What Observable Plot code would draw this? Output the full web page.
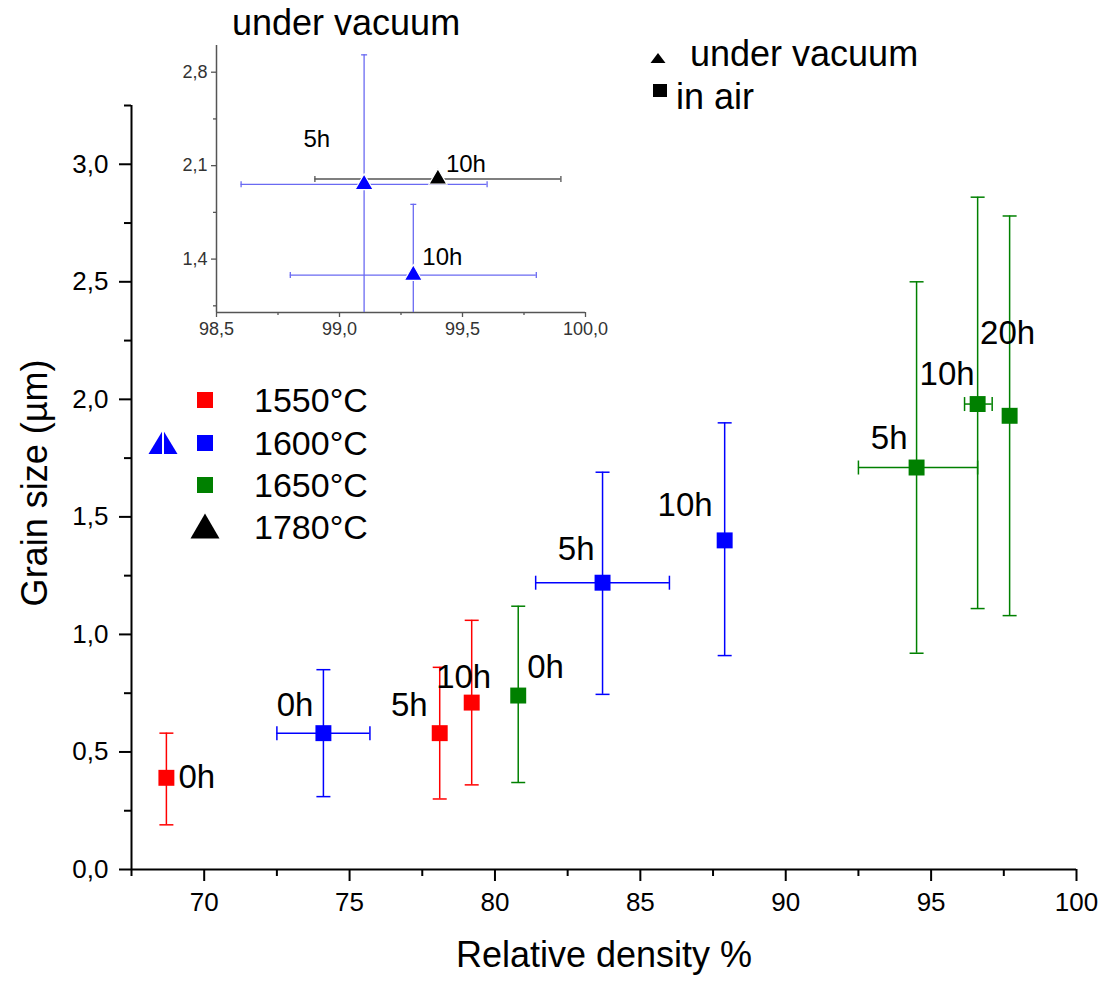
<!DOCTYPE html>
<html><head><meta charset="utf-8">
<script src="https://cdn.jsdelivr.net/npm/d3@7"></script>
<script src="https://cdn.jsdelivr.net/npm/@observablehq/plot@0.6"></script>
<style>
body{margin:0;background:#fff;}
#wrap{position:relative;width:1104px;height:984px;}
#wrap > svg{position:absolute;left:0;top:0;}
</style></head><body><div id="wrap"></div>
<script>
// ---------- data: samples sintered in air ----------
const airTemp = ["1550°C","1550°C","1550°C","1600°C","1600°C","1600°C","1650°C","1650°C","1650°C","1650°C"];
const airTime = ["0h","5h","10h","0h","5h","10h","0h","5h","10h","20h"];
const airDensity = [68.7, 78.1, 79.2, 74.1, 83.7, 87.9, 80.8, 94.5, 96.6, 97.7];
const airGrain = [0.39, 0.58, 0.71, 0.58, 1.22, 1.40, 0.74, 1.71, 1.98, 1.93];
const airGrainLow = [0.19, 0.30, 0.36, 0.31, 0.745, 0.91, 0.37, 0.92, 1.11, 1.08];
const airGrainHigh = [0.58, 0.86, 1.06, 0.85, 1.69, 1.90, 1.12, 2.50, 2.86, 2.78];
const airDensityLow = [null, null, null, 72.5, 81.4, null, null, 92.5, 96.15, null];
const airDensityHigh = [null, null, null, 75.7, 86.0, null, null, 96.6, 97.1, null];

// ---------- data: samples sintered under vacuum (inset) ----------
const vacTemp = ["1600°C", "1780°C", "1600°C"];
const vacTime = ["5h", "10h", "10h"];
const vacDensity = [99.1, 99.4, 99.3];
const vacGrain = [1.96, 2.00, 1.28];
const vacGrainLow = [0.99, null, 0.75];
const vacGrainHigh = [2.93, null, 1.81];
const vacDensityLow = [98.6, 98.9, 98.8];
const vacDensityHigh = [99.6, 99.9, 99.8];

// ---------- series / legend ----------
const seriesTemps = ["1550°C", "1600°C", "1650°C", "1780°C"];
const seriesColors = ["#ff0000", "#0000ff", "#008000", "#000000"];
const insetBarColors = {"1600°C": "#6a6af2", "1780°C": "#555555"};

// ---------- ticks ----------
const xMajor = [70, 75, 80, 85, 90, 95, 100];
const xMinor = [67.5, 72.5, 77.5, 82.5, 87.5, 92.5, 97.5];
const yMajor = [0, 0.5, 1.0, 1.5, 2.0, 2.5, 3.0];
const yMinor = [0.25, 0.75, 1.25, 1.75, 2.25, 2.75, 3.25];
const insetXMajor = [98.5, 99.0, 99.5, 100.0];
const insetXMinor = [98.75, 99.25, 99.75];
const insetYMajor = [1.4, 2.1, 2.8];
const insetYMinor = [1.05, 1.75, 2.45];

// ---------- label layout (pixel offsets, not data) ----------
const airLabelDx = [12, -12, -8, -10, -8, -12, 9, -9, -3, -2];
const airLabelDy = [0, -28, -25, -28, -33, -35, -28, -29, -30, -82];
const airLabelAnchor = ["start","end","middle","end","end","end","start","end","end","middle"];
const vacLabelDx = [-34, 8, 9];
const vacLabelDy = [-45, -15, -18];
const vacLabelAnchor = ["end", "start", "start"];

const FONT = '"Liberation Sans", Arial, Helvetica, sans-serif';
const fmt = d => d.toFixed(1).replace(".", ",");
const colorOf = t => seriesColors[seriesTemps.indexOf(t)];

const hCap = {draw(ctx, size){ const w = Math.sqrt(size / Math.PI); ctx.moveTo(-w, 0); ctx.lineTo(w, 0); }};
const vCap = {draw(ctx, size){ const w = Math.sqrt(size / Math.PI); ctx.moveTo(0, -w); ctx.lineTo(0, w); }};

const air = airDensity.map((x, i) => ({temp: airTemp[i], time: airTime[i], x, y: airGrain[i],
  ylo: airGrainLow[i], yhi: airGrainHigh[i], xlo: airDensityLow[i], xhi: airDensityHigh[i]}));
const vac = vacDensity.map((x, i) => ({temp: vacTemp[i], time: vacTime[i], x, y: vacGrain[i],
  ylo: vacGrainLow[i], yhi: vacGrainHigh[i], xlo: vacDensityLow[i], xhi: vacDensityHigh[i]}));

// ---------- main chart ----------
const mainMarks = [
  Plot.axisX({ticks: xMajor, tickSize: 12, tickPadding: 11, tickFormat: d => String(d), fontSize: 26, label: null, strokeWidth: 2}),
  Plot.axisX({ticks: xMinor, tickSize: 7, tickFormat: () => "", label: null, strokeWidth: 2}),
  Plot.axisY({ticks: yMajor, tickSize: 12, tickPadding: 11, tickFormat: fmt, fontSize: 26, label: null, strokeWidth: 2}),
  Plot.axisY({ticks: yMinor, tickSize: 7, tickFormat: () => "", label: null, strokeWidth: 2}),
  Plot.ruleY([0], {strokeWidth: 2}),
  Plot.ruleX([67.5], {strokeWidth: 2}),
  Plot.text(["Relative density %"], {frameAnchor: "bottom", dy: 86, fontSize: 36, lineAnchor: "middle", fill: "black"})
];
seriesTemps.forEach((t, k) => {
  const d = air.filter(p => p.temp === t);
  if (!d.length) return;
  const c = seriesColors[k];
  const dh = d.filter(p => p.xlo != null);
  mainMarks.push(
    Plot.ruleX(d, {x: "x", y1: "ylo", y2: "yhi", stroke: c, strokeWidth: 1.5}),
    Plot.dot(d, {x: "x", y: "ylo", symbol: hCap, r: 7, stroke: c, fill: "none", strokeWidth: 1.5}),
    Plot.dot(d, {x: "x", y: "yhi", symbol: hCap, r: 7, stroke: c, fill: "none", strokeWidth: 1.5}),
    Plot.ruleY(dh, {y: "y", x1: "xlo", x2: "xhi", stroke: c, strokeWidth: 1.5}),
    Plot.dot(dh, {x: "xlo", y: "y", symbol: vCap, r: 7, stroke: c, fill: "none", strokeWidth: 1.5}),
    Plot.dot(dh, {x: "xhi", y: "y", symbol: vCap, r: 7, stroke: c, fill: "none", strokeWidth: 1.5})
  );
});
seriesTemps.forEach((t, k) => {
  const d = air.filter(p => p.temp === t);
  if (!d.length) return;
  mainMarks.push(Plot.dot(d, {x: "x", y: "y", symbol: "square", r: 9, fill: seriesColors[k], stroke: "none"}));
});
air.forEach((p, i) => {
  mainMarks.push(Plot.text([p], {x: "x", y: "y", text: "time", dx: airLabelDx[i], dy: airLabelDy[i],
    textAnchor: airLabelAnchor[i], fontSize: 33, fill: "black"}));
});

const main = Plot.plot({
  width: 1104, height: 984,
  marginLeft: 131, marginRight: 28, marginTop: 105, marginBottom: 115,
  x: {domain: [67.5, 100], label: null},
  y: {domain: [0, 3.25], label: null},
  style: {fontFamily: FONT, background: "white", color: "black", overflow: "visible"},
  marks: mainMarks
});

// ---------- inset ----------
const insetMarks = [
  Plot.axisX({ticks: insetXMajor, tickSize: 5, tickPadding: 5, tickFormat: fmt, fontSize: 18, label: null, stroke: "#555", strokeWidth: 1.3, fill: "#333"}),
  Plot.axisX({ticks: insetXMinor, tickSize: 3, tickFormat: () => "", label: null, stroke: "#555", strokeWidth: 1.3}),
  Plot.axisY({ticks: insetYMajor, tickSize: 5, tickPadding: 4, tickFormat: fmt, fontSize: 18, label: null, stroke: "#555", strokeWidth: 1.3, fill: "#333"}),
  Plot.axisY({ticks: insetYMinor, tickSize: 3, tickFormat: () => "", label: null, stroke: "#555", strokeWidth: 1.3}),
  Plot.ruleY([1.0], {stroke: "#555", strokeWidth: 1.5}),
  Plot.ruleX([98.5], {stroke: "#555", strokeWidth: 1.5})
];
vac.forEach((p) => {
  const c = insetBarColors[p.temp];
  insetMarks.push(
    Plot.ruleY([p], {y: "y", x1: "xlo", x2: "xhi", stroke: c, strokeWidth: 1.3}),
    Plot.dot([p], {x: "xlo", y: "y", symbol: vCap, r: 3, stroke: c, fill: "none", strokeWidth: 1.3}),
    Plot.dot([p], {x: "xhi", y: "y", symbol: vCap, r: 3, stroke: c, fill: "none", strokeWidth: 1.3})
  );
  if (p.ylo != null) {
    insetMarks.push(
      Plot.ruleX([p], {x: "x", y1: "ylo", y2: "yhi", stroke: c, strokeWidth: 1.3, clip: true}),
      Plot.dot([p], {x: "x", y: "yhi", symbol: hCap, r: 3, stroke: c, fill: "none", strokeWidth: 1.3})
    );
  }
});
vac.forEach((p, i) => {
  insetMarks.push(
    Plot.dot([p], {x: "x", y: "y", symbol: "triangle", r: 6.7, fill: colorOf(p.temp), stroke: "white", strokeWidth: 1.2}),
    Plot.text([p], {x: "x", y: "y", text: "time", dx: vacLabelDx[i], dy: vacLabelDy[i], textAnchor: vacLabelAnchor[i], fontSize: 24, fill: "black"})
  );
});
const inset = Plot.plot({
  width: 620, height: 340,
  marginLeft: 216, marginRight: 35, marginTop: 45, marginBottom: 28,
  x: {domain: [98.5, 100], label: null},
  y: {domain: [1.0, 3.0], label: null},
  style: {fontFamily: FONT, background: "none", color: "#333", overflow: "visible"},
  marks: insetMarks
});

const wrap = document.getElementById("wrap");
wrap.appendChild(main);
wrap.appendChild(inset);

// ---------- legends / titles (overlay) ----------
const ov = d3.select(wrap).append("svg").attr("width", 1104).attr("height", 984)
  .style("font-family", FONT).style("pointer-events", "none");
const tri = (cx, cy, w, h) => `M${cx},${cy - h/2}L${cx + w/2},${cy + h/2}L${cx - w/2},${cy + h/2}Z`;

ov.append("text").attr("transform", "translate(47,483) rotate(-90)").attr("text-anchor", "middle")
  .attr("font-size", 36).attr("fill", "black").text("Grain size (µm)");

ov.append("text").attr("x", 232).attr("y", 35).attr("font-size", 36).attr("fill", "black").text("under vacuum");

// top-right legend: atmosphere
ov.append("path").attr("d", tri(658, 58, 15, 10)).attr("fill", "black");
ov.append("text").attr("x", 690).attr("y", 66).attr("font-size", 36).attr("fill", "black").text("under vacuum");
ov.append("rect").attr("x", 653).attr("y", 84).attr("width", 14).attr("height", 13).attr("fill", "black");
ov.append("text").attr("x", 676).attr("y", 109).attr("font-size", 36).attr("fill", "black").text("in air");

// temperature legend
const legY = [400, 443, 485, 527];
seriesTemps.forEach((t, k) => {
  if (k < 3) {
    ov.append("rect").attr("x", 197).attr("y", legY[k] - 8).attr("width", 16).attr("height", 16).attr("fill", seriesColors[k]);
  } else {
    ov.append("path").attr("d", tri(205, legY[k] - 1, 29, 25)).attr("fill", seriesColors[k]);
  }
  ov.append("text").attr("x", 254).attr("y", legY[k] + 12).attr("font-size", 34).attr("fill", "black").text(t);
});
// split triangle (1600°C under vacuum)
ov.append("path").attr("d", tri(163, 442, 29, 24)).attr("fill", seriesColors[1]);
ov.append("line").attr("x1", 163).attr("x2", 163).attr("y1", 428).attr("y2", 456).attr("stroke", "white").attr("stroke-width", 2);
</script></body></html>
